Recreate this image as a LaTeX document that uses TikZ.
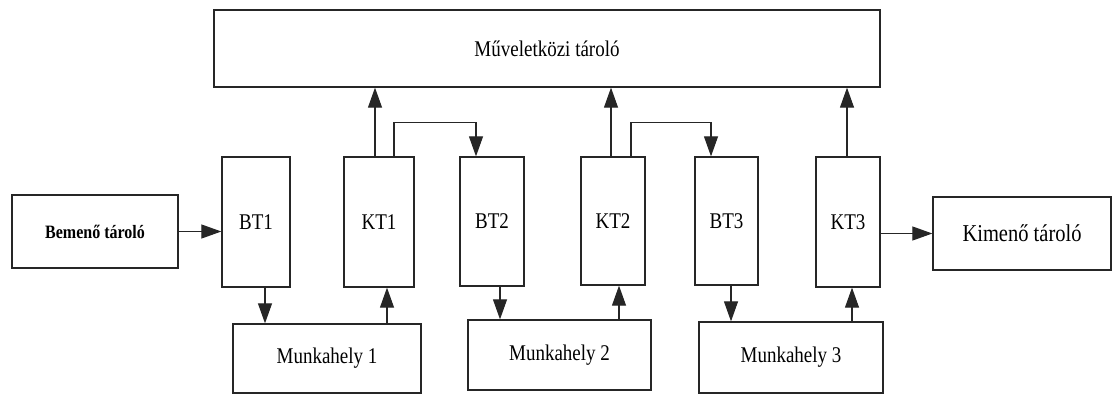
\documentclass[tikz,border=0pt]{standalone}
\usepackage{fontspec}
\setmainfont{Liberation Serif}
\usetikzlibrary{arrows.meta}
% taller-than-wide lettering of the typeset labels
\newcommand\tallbox[1]{\scalebox{1}[1.18]{#1}}
\begin{document}
\begin{tikzpicture}[x=1pt,y=-1pt,
  box/.style={draw=black!85,line width=1.3pt,inner sep=0pt,
    font=\fontsize{19}{21}\selectfont},
  arr/.style={draw=black!85,line width=1.1pt,
    -{Triangle[length=20pt,width=14pt]}},
  link/.style={draw=black!85,line width=1.1pt}]
\useasboundingbox (0,0) rectangle (1115,396);

% storage shared between the operations
\node[box,minimum width=666pt,minimum height=77pt] (mv) at (547,48.5)
  {\tallbox{Műveletközi tároló}};

% input and output stores
\node[box,minimum width=166pt,minimum height=73pt,
  font=\fontsize{16}{18}\selectfont\bfseries] (be) at (95,231.5)
  {\tallbox{Bemenő tároló}};
\node[box,minimum width=178pt,minimum height=73pt,
  font=\fontsize{20.5}{22}\selectfont] (ki) at (1022,233.5)
  {\tallbox{Kimenő tároló}};

% buffer stores before (BT) and after (KT) each workplace
\node[box,minimum width=68pt,minimum height=130pt] (bt1) at (256,222) {\tallbox{BT1}};
\node[box,minimum width=70pt,minimum height=130pt] (kt1) at (379,222) {\tallbox{KT1}};
\node[box,minimum width=64pt,minimum height=129pt] (bt2) at (492,221.5) {\tallbox{BT2}};
\node[box,minimum width=64pt,minimum height=128pt] (kt2) at (613,221) {\tallbox{KT2}};
\node[box,minimum width=63pt,minimum height=128pt] (bt3) at (726.5,221) {\tallbox{BT3}};
\node[box,minimum width=64pt,minimum height=130pt] (kt3) at (848,222) {\tallbox{KT3}};

% workplaces
\node[box,minimum width=188pt,minimum height=69pt] (m1) at (327,358.5) {\tallbox{Munkahely 1}};
\node[box,minimum width=183pt,minimum height=70pt] (m2) at (559.5,355) {\tallbox{Munkahely 2}};
\node[box,minimum width=184pt,minimum height=71pt] (m3) at (791,357.5) {\tallbox{Munkahely 3}};

% material flow
\draw[arr] (be.east) -- (be.east -| bt1.west);
\draw[arr] ([xshift=9]bt1.south) -- ([xshift=9]bt1.south |- m1.north);
\draw[arr] ([xshift=8]m1.north -| kt1.south) -- ([xshift=8]kt1.south);
\draw[arr] ([xshift=-4]kt1.north) -- ([xshift=-4]kt1.north |- mv.south);
\draw[arr] ([xshift=15]kt1.north) -- ++(0,-34) -| ([xshift=-16]bt2.north);

\draw[arr] ([xshift=8]bt2.south) -- ([xshift=8]bt2.south |- m2.north);
\draw[arr] ([xshift=6]m2.north -| kt2.south) -- ([xshift=6]kt2.south);
\draw[arr] ([xshift=-2]kt2.north) -- ([xshift=-2]kt2.north |- mv.south);
\draw[arr] ([xshift=18]kt2.north) -- ++(0,-34) -| ([xshift=-15.5]bt3.north);

\draw[arr] ([xshift=4.5]bt3.south) -- ([xshift=4.5]bt3.south |- m3.north);
\draw[arr] ([xshift=4]m3.north -| kt3.south) -- ([xshift=4]kt3.south);
\draw[arr] ([xshift=-1]kt3.north) -- ([xshift=-1]kt3.north |- mv.south);
\draw[arr] (kt3.east |- ki.west) -- (ki.west);
\end{tikzpicture}
\end{document}
